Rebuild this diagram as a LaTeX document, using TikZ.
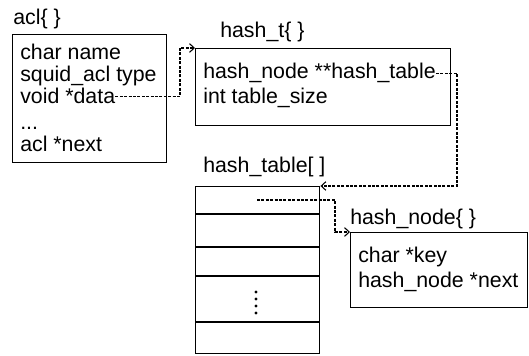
\documentclass[tikz,border=0pt]{standalone}
\usepackage{fontspec}
\setmainfont{Liberation Sans}
\usetikzlibrary{arrows.meta}
\begin{document}
\begin{tikzpicture}[x=0.75pt,y=-0.75pt,
  box/.style={draw,line width=1.1pt,inner sep=0,anchor=north west},
  txt/.style={anchor=base west,inner sep=0,font=\fontsize{16}{18}\selectfont},
  sep/.style={line width=1.1pt},
  link/.style={line width=0.8pt,dash pattern=on 2.2pt off 1.1pt,-{Straight Barb[length=3.5pt,width=6.5pt]}},
  dot/.style={fill,circle,inner sep=0,minimum size=2.4pt}]
\useasboundingbox (0,0) rectangle (529,356);

% acl
\node[txt] (acllbl) at (13,25) {acl\{ \}};
\node[box,minimum width=115.5pt,minimum height=96pt] (acl) at (12,34) {};
\node[txt] (name) at (20,60) {char name};
\node[txt] (type) at (20,82) {squid\_acl type};
\node[txt] (data) at (20,104) {void *data};
\node[txt] (dots) at (20,130) {...};
\node[txt] (next) at (20,152) {acl *next};

% hash_t
\node[txt] (htlbl) at (220,38) {hash\_t\{ \}};
\node[box,minimum width=191.25pt,minimum height=57.75pt] (hasht) at (195,48) {};
\node[txt] (htab) at (203,79) {hash\_node **hash\_table};
\node[txt] (tsize) at (203,104) {int table\_size};

% hash_table[]
\node[txt] (arrlbl) at (203,173) {hash\_table[ ]};
\node[box,minimum width=93pt,minimum height=125.25pt] (arr) at (195,186) {};
\foreach \yy in {214,247,276,322}
  \draw[sep] (arr.west |- 0,\yy) -- (arr.east |- 0,\yy);
\foreach \yy [count=\i] in {292,299,306,313}
  \node[dot] (vd\i) at (256,\yy) {};

% hash_node
\node[txt] (hnlbl) at (350,225) {hash\_node\{ \}};
\node[box,minimum width=132.75pt,minimum height=56.25pt] (hn) at (350,232) {};
\node[txt] (key) at (358,263) {char *key};
\node[txt] (hnext) at (358,288) {hash\_node *next};

% connectors
\coordinate (c1) at (180,48);
\coordinate (c2) at (457,186);
\coordinate (s3) at (257,200);
\coordinate (c3) at (335,232);
\draw[link] (data.east) -| (c1) -- (hasht.north west);
\draw[link] (htab.east) -| (c2) -- (arr.north east);
\draw[link] (s3) -| (c3) -- (hn.north west);
\end{tikzpicture}
\end{document}
